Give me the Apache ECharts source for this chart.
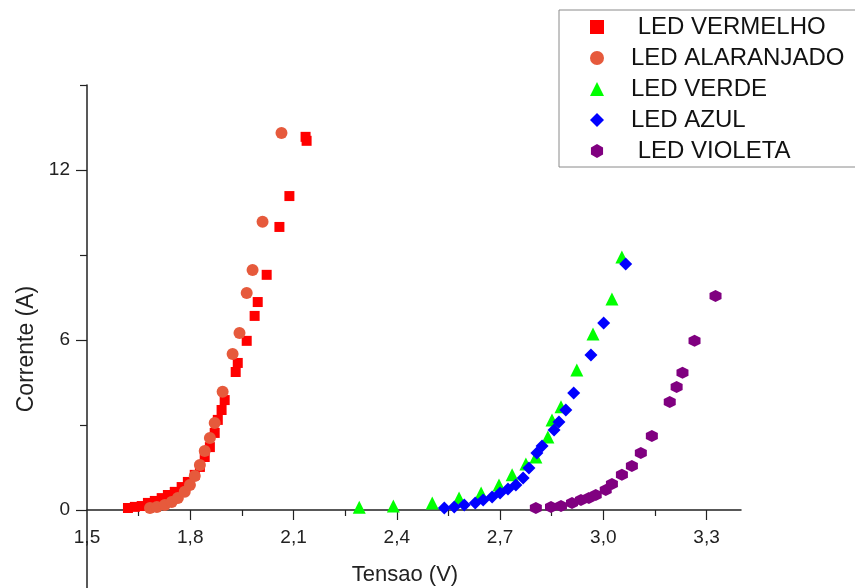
<!DOCTYPE html>
<html>
<head>
<meta charset="utf-8">
<script src="https://cdn.jsdelivr.net/npm/echarts@6/dist/echarts.min.js"></script>
<style>
html,body{margin:0;padding:0;background:#fff;}
#chart{width:855px;height:588px;}
</style>
</head>
<body>
<div id="chart"></div>
<script>
// ---- data ----
const seriesNames = [' LED VERMELHO', 'LED ALARANJADO', 'LED VERDE', 'LED AZUL', ' LED VIOLETA'];

const vermelhoV = [1.619,1.639,1.659,1.677,1.697,1.717,1.735,1.755,1.775,1.793,1.813,1.828,1.842,1.857,1.871,1.880,1.891,1.900,1.932,1.938,1.964,1.987,1.996,2.022,2.059,2.088,2.135,2.138];
const vermelhoI = [0.07,0.11,0.14,0.25,0.32,0.42,0.53,0.64,0.81,0.99,1.24,1.52,1.87,2.22,2.72,3.18,3.53,3.88,4.87,5.19,5.97,6.85,7.34,8.30,9.99,11.08,13.17,13.03];

const alaranjadoV = [1.683,1.703,1.726,1.746,1.764,1.784,1.799,1.813,1.828,1.842,1.857,1.871,1.894,1.923,1.943,1.964,1.981,2.010,2.065];
const alaranjadoI = [0.07,0.11,0.18,0.28,0.42,0.64,0.88,1.20,1.59,2.08,2.54,3.07,4.17,5.51,6.25,7.66,8.47,10.17,13.31];

const verdeV = [2.291,2.390,2.503,2.581,2.645,2.697,2.735,2.775,2.804,2.839,2.851,2.877,2.923,2.970,3.025,3.054];
const verdeI = [0.10,0.14,0.25,0.42,0.60,0.88,1.24,1.62,1.87,2.58,3.18,3.64,4.94,6.21,7.45,8.93];

const azulV = [2.538,2.567,2.596,2.628,2.651,2.677,2.700,2.723,2.746,2.767,2.784,2.807,2.822,2.857,2.871,2.891,2.914,2.964,3.001,3.065];
const azulI = [0.07,0.11,0.18,0.25,0.35,0.46,0.60,0.74,0.88,1.13,1.48,2.01,2.26,2.82,3.11,3.53,4.13,5.47,6.60,8.68];

const violetaV = [2.804,2.848,2.877,2.909,2.935,2.958,2.978,3.007,3.025,3.054,3.083,3.109,3.141,3.193,3.213,3.230,3.265,3.326];
const violetaI = [0.07,0.11,0.14,0.25,0.35,0.42,0.53,0.71,0.92,1.24,1.55,2.01,2.61,3.81,4.34,4.84,5.97,7.55];

const xMajorTicks = [1.8, 2.1, 2.4, 2.7, 3.0, 3.3];
const xMinorTicks = [1.65, 1.95, 2.25, 2.55, 2.85, 3.15];
const xTickLabels = [1.5, 1.8, 2.1, 2.4, 2.7, 3.0, 3.3];
const yMajorTicks = [0, 6, 12];
const yMinorTicks = [3, 9, 15];
const yTickLabels = [0, 6, 12];

// ---- styling ----
const zip = (a, b) => a.map((v, i) => [v, b[i]]);
const hexagon = 'path://M50,0 L93.3,25 L93.3,75 L50,100 L6.7,75 L6.7,25 Z';
const FONT = 'Liberation Sans, Arial, sans-serif';
const AX = '#222';

const chart = echarts.init(document.getElementById('chart'), null, {renderer: 'canvas'});

const xRange = {min: 1.5, max: 3.4};
const yRange = {min: -3, max: 15};
const GRID_TOP = 85, GRID_H = 510;
// pixel distance between the grid bottom and the y = 0 line
const zeroOffset = GRID_H * (0 - yRange.min) / (yRange.max - yRange.min);

const option = {
  backgroundColor: '#ffffff',
  animation: false,
  grid: {left: 87, top: GRID_TOP, width: 654, height: GRID_H, containLabel: false, outerBoundsMode: 'none'},
  legend: {
    orient: 'vertical',
    left: 559, top: 10,
    padding: [5, 40, 4, 31],
    backgroundColor: '#fff',
    borderColor: '#8a8a8a',
    borderWidth: 1,
    itemWidth: 14, itemHeight: 14,
    itemGap: 7,
    textStyle: {fontFamily: FONT, fontSize: 24, color: '#111', padding: [0, 0, 0, 22]},
    data: seriesNames
  },
  xAxis: [
    {
      type: 'value', min: xRange.min, max: xRange.max, position: 'bottom',
      offset: -zeroOffset,
      axisLine: {show: true, onZero: false, lineStyle: {color: AX, width: 1.5}},
      axisTick: {show: true, customValues: xMajorTicks, length: 10, lineStyle: {color: AX, width: 1.2}},
      axisLabel: {
        show: true, customValues: xTickLabels, margin: 18,
        fontFamily: FONT, fontSize: 19, color: AX,
        formatter: v => v.toFixed(1).replace('.', ',')
      },
      splitLine: {show: false},
      name: 'Tensao (V)', nameLocation: 'middle', nameGap: 54,
      nameTextStyle: {fontFamily: FONT, fontSize: 22, color: AX, padding: [0, 18, 0, 0]}
    },
    {
      type: 'value', min: xRange.min, max: xRange.max, position: 'bottom',
      offset: -zeroOffset,
      axisLine: {show: false, onZero: false},
      axisTick: {show: true, customValues: xMinorTicks, length: 6, lineStyle: {color: AX, width: 1.2}},
      axisLabel: {show: false},
      splitLine: {show: false}
    }
  ],
  yAxis: [
    {
      type: 'value', min: yRange.min, max: yRange.max, position: 'left',
      axisLine: {show: true, onZero: false, lineStyle: {color: AX, width: 1.5}},
      axisTick: {show: true, customValues: yMajorTicks, length: 11, lineStyle: {color: AX, width: 1.2}},
      axisLabel: {
        show: true, customValues: yTickLabels, margin: 17,
        fontFamily: FONT, fontSize: 19, color: AX
      },
      splitLine: {show: false},
      name: 'Corrente (A)', nameLocation: 'middle', nameGap: 40,
      nameTextStyle: {fontFamily: FONT, fontSize: 23, color: AX, padding: [0, 18, 0, 0]}
    },
    {
      type: 'value', min: yRange.min, max: yRange.max, position: 'left',
      axisLine: {show: false, onZero: false},
      axisTick: {show: true, customValues: yMinorTicks, length: 7, lineStyle: {color: AX, width: 1.2}},
      axisLabel: {show: false},
      splitLine: {show: false}
    }
  ],
  series: [
    {name: seriesNames[0], type: 'scatter', symbol: 'rect', symbolSize: 10,
     itemStyle: {color: '#ff0000', opacity: 1}, data: zip(vermelhoV, vermelhoI)},
    {name: seriesNames[1], type: 'scatter', symbol: 'circle', symbolSize: 12,
     itemStyle: {color: '#e65a3c', opacity: 1}, data: zip(alaranjadoV, alaranjadoI)},
    {name: seriesNames[2], type: 'scatter', symbol: 'triangle', symbolSize: 13,
     itemStyle: {color: '#00ff00', opacity: 1}, data: zip(verdeV, verdeI)},
    {name: seriesNames[3], type: 'scatter', symbol: 'diamond', symbolSize: 13,
     itemStyle: {color: '#0000ff', opacity: 1}, data: zip(azulV, azulI)},
    {name: seriesNames[4], type: 'scatter', symbol: hexagon, symbolSize: 12,
     itemStyle: {color: '#800080', opacity: 1}, data: zip(violetaV, violetaI)}
  ]
};
chart.setOption(option);
</script>
</body>
</html>
